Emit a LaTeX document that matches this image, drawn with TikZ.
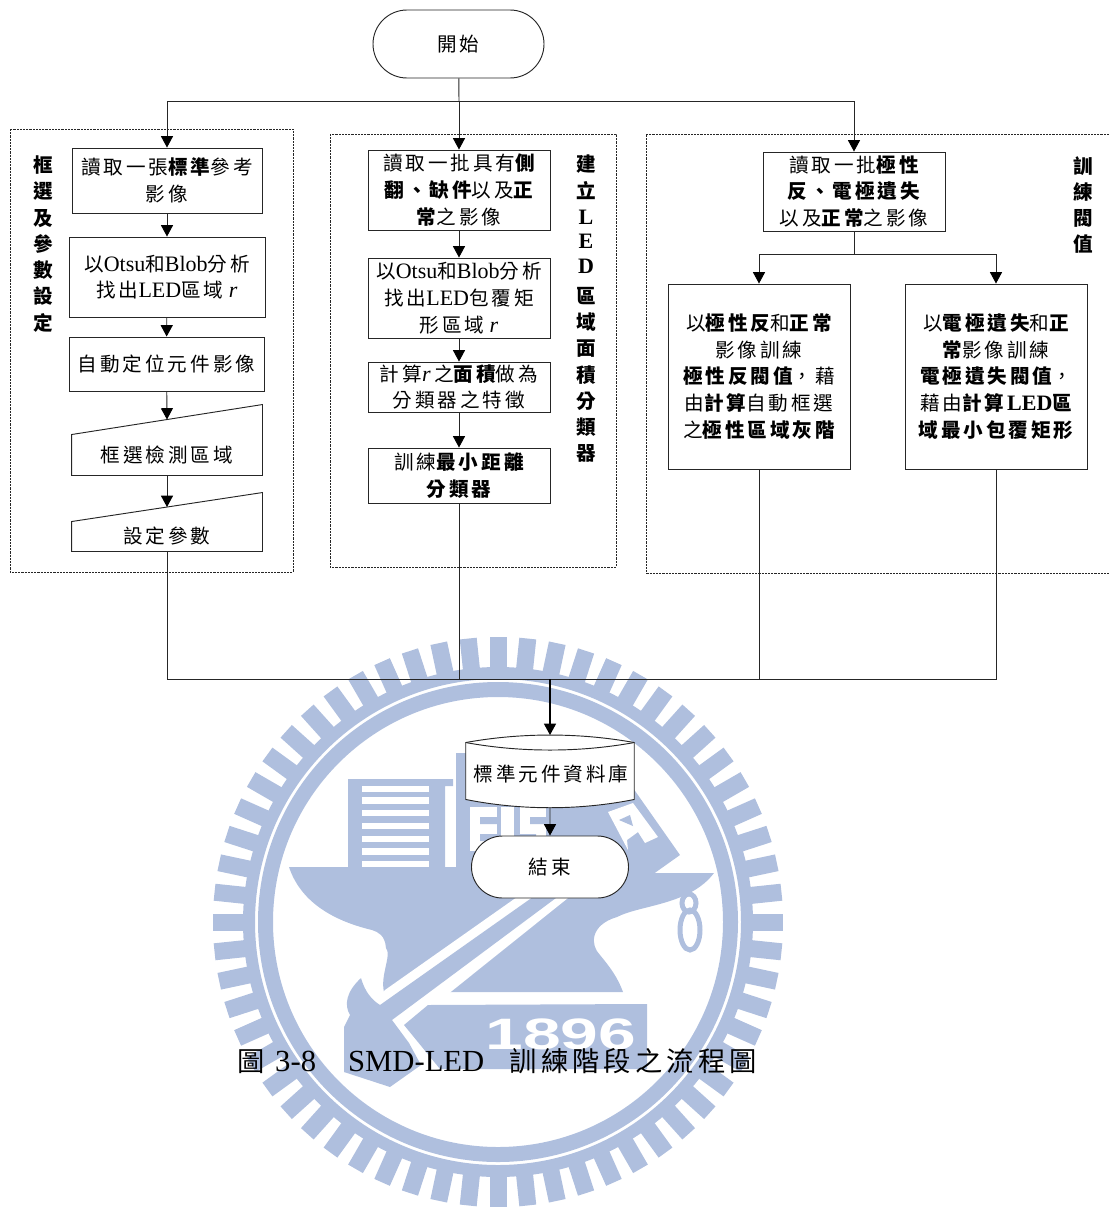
\documentclass[tikz,border=0pt]{standalone}
\usepackage{fontspec}
\setmainfont{Liberation Serif}
\newfontfamily\cjk[Scale=0.89,LetterSpace=15]{Noto Sans CJK TC}
\newfontfamily\sealfont{Liberation Sans}
\newcommand{\zh}[1]{{\cjk #1}}
\newcommand{\zb}[1]{{\cjk\bfseries #1}}
\definecolor{SealBlue}{HTML}{AFBFDE}
\definecolor{FlowLine}{HTML}{262626}
\usetikzlibrary{arrows.meta, positioning, calc, shapes.misc}

\begin{document}
\begin{tikzpicture}[x=0.75pt, y=-0.75pt, >={Triangle[length=8.5pt,width=9pt,color=black]},
  sz/.style 2 args={minimum width=#1*0.75pt, minimum height=#2*0.75pt},
  flowbox/.style={draw=FlowLine, fill=white, line width=0.7pt, align=center, inner sep=0pt,
    font=\fontsize{16.5}{20}\selectfont},
  slantbox/.style={flowbox, draw=none, fill=none},
  termbox/.style={flowbox, rounded rectangle},
  grouptag/.style={align=center, inner sep=0pt, font=\fontsize{16.5}{19.7}\selectfont\bfseries},
  groupframe/.style={draw=FlowLine, line width=0.5pt, dash pattern=on 1.6pt off 0.8pt},
  flow/.style={draw=FlowLine, line width=0.7pt},
  seal/.style={SealBlue}]
  \useasboundingbox (0,0) rectangle (1109,1207);
  % seal behind the chart
  \foreach \a in {0,6,...,354}
    \draw[seal, line width=12.75pt] (498,922) ++(\a:250) -- ++(\a:35);
  \draw[seal, line width=9pt] (498,922) circle[radius=249];
  \draw[seal, line width=11.25pt] (498,922) circle[radius=232.5];
  \fill[seal] (348,867) |- (453,779) -- (453,786) -- (445,786) -- (445,867) -- cycle;
  \fill[seal] (456,870) -- (456,753) -- (600,753) -- (633,788) -- (680,855) -- (635,887) -- cycle;
  \foreach \ya/\yb in {786/792,797/804,810/816,823/829,836/842,848/855,861/867}
    \fill[white] (362,\ya) rectangle (429,\yb);
  \fill[white] (470,807) rectangle (497,851);
  \fill[seal] (480,817) rectangle (497,824) (480,834) rectangle (497,841);
  \fill[white] (501,807) rectangle (514,851);
  \fill[white] (520,807) rectangle (546,851);
  \fill[seal] (530,817) rectangle (546,824) (520,834) rectangle (536,841);
  \fill[white] (608,812) -- (633,803) -- (658,837) -- (645,843) -- (638,832) -- (627,840) -- (628,850) -- cycle;
  \fill[seal] (619,820) -- (630,815) -- (633,826) -- cycle;
  \fill[seal] (289,867) -- (640,867) -- (640,873) -- (714,873)
    .. controls (690,905) and (640,905) .. (617,917)
    .. controls (590,925) and (590,945) .. (600,955)
    .. controls (610,967) and (618,978) .. (623,992) -- (384,992)
    .. controls (380,975) and (392,955) .. (386,948)
    .. controls (385,935) and (378,932) .. (372,930)
    .. controls (330,920) and (300,900) .. (289,867) -- cycle;
  \fill[white] (385,990) -- (527,890) -- (578,890) -- (450,992.5) -- (450,995) -- (380,995) -- cycle;
  \fill[seal] (361,978) .. controls (365,992) and (372,1000) .. (380,1005)
    -- (540,892) -- (564,892) -- (392,1020) -- (409,1043) -- (421,1065) -- (390,1087) -- (344,1072) -- (344,1027)
    -- (350,1015) .. controls (344,1005) and (346,992) .. (361,978) -- cycle;
  \fill[seal] (428,1005) -- (647,1004) -- (647,1069) -- (440,1069) -- (404,1025) -- cycle;
  \draw[seal, line width=3.75pt] (689,903) ellipse[x radius=7, y radius=9] (690,930) ellipse[x radius=10, y radius=20];
  \node[inner sep=0pt, xscale=1.54, text=white] (sealyear) at (561,1034) {\fontsize{33}{33}\sealfont\bfseries 1896};
  % dashed groups
  \draw[groupframe] (10,129) rectangle (293,572);
  \draw[groupframe] (330,134) rectangle (616,567);
  \draw[groupframe] (1109,134) -- (646,134) -- (646,573) -- (1109,573);
  \node[grouptag] (lefttag) at (43,244) {\zb{框}\\\zb{選}\\\zb{及}\\\zb{參}\\\zb{數}\\\zb{設}\\\zb{定}};
  \node[grouptag] (midtag) at (586,309) {\zb{建}\\\zb{立}\\L\\[-1.5pt]E\\[-1.5pt]D\\[3pt]\zb{區}\\\zb{域}\\\zb{面}\\\zb{積}\\\zb{分}\\\zb{類}\\\zb{器}};
  \node[grouptag] (righttag) at (1083,205) {\zb{訓}\\\zb{練}\\\zb{閥}\\\zb{值}};
  % start
  \node[termbox, sz={171}{68}] (startnode) at (458.5,44) {\zh{開始}};
  \coordinate (topbus) at (459,101);
  % left column
  \node[flowbox, sz={190}{65}] (readref) at (167,180.5) {\zh{讀取一張}\zb{標準}\zh{參考}\\\zh{影像}};
  \node[flowbox, sz={196}{80}] (otsuleft) at (167,277) {\zh{以}Otsu\zh{和}Blob\zh{分析}\\\zh{找出}LED\zh{區域} \textit{r}};
  \node[flowbox, sz={195}{54}] (autoloc) at (166.5,364) {\zh{自動定位元件影像}};
  \node[slantbox, sz={190}{40}] (selectarea) at (167,455) {\zh{框選檢測區域}};
  \node[slantbox, sz={190}{29}] (setparam) at (167,536.5) {\zh{設定參數}};
  \draw[flow] (selectarea.south west) -- (selectarea.south east) -- ($(selectarea.north east)+(0,-30)$) -- (selectarea.north west) -- cycle;
  \draw[flow] (setparam.south west) -- (setparam.south east) -- ($(setparam.north east)+(0,-29)$) -- (setparam.north west) -- cycle;
  \coordinate (selecttop) at ($(selectarea.north)+(0,-15)$);
  \coordinate (paramtop) at ($(setparam.north)+(0,-14.5)$);
  % middle column
  \node[flowbox, sz={182}{80}] (readmid) at (459,190) {\zh{讀取一批具有}\zb{側}\\\zb{翻、缺件}\zh{以及}\zb{正}\\\zb{常}\zh{之影像}};
  \node[flowbox, sz={182}{80}] (otsumid) at (459,298) {\zh{以}Otsu\zh{和}Blob\zh{分析}\\\zh{找出}LED\zh{包覆矩}\\\zh{形區域} \textit{r}};
  \node[flowbox, sz={182}{50}] (areafeat) at (459,387) {\zh{計算}\textit{r}\,\zh{之}\zb{面積}\zh{做為}\\\zh{分類器之特徵}};
  \node[flowbox, sz={182}{55}] (mindist) at (459,475.5) {\zh{訓練}\zb{最小距離}\\\zb{分類器}};
  % right column
  \node[flowbox, sz={182}{79}] (readpol) at (854,191.5) {\zh{讀取一批}\zb{極性}\\\zb{反、電極遺失}\\\zh{以及}\zb{正常}\zh{之影像}};
  \coordinate (polbus) at (854,254);
  \node[flowbox, sz={182}{185}] (polthresh) at (759,376.5) {\zh{以}\zb{極性反}\zh{和}\zb{正常}\\\zh{影像訓練}\\\zb{極性反閥值}\zh{，藉}\\\zh{由}\zb{計算}\zh{自動框選}\\\zh{之}\zb{極性區域灰階}};
  \node[flowbox, sz={182}{185}] (electhresh) at (996,376.5) {\zh{以}\zb{電極遺失}\zh{和}\zb{正}\\\zb{常}\zh{影像訓練}\\\zb{電極遺失閥值}\zh{，}\\\zh{藉由}\zb{計算}\textbf{LED}\zb{區}\\\zb{域最小包覆矩形}};
  % database and end
  \coordinate (botbus) at (550,679);
  \node[slantbox, sz={167.6}{56}] (stddb) at (550,771) {};
  \filldraw[flow, fill=white] (stddb.north west) .. controls +(55,-10) and +(-55,-10) .. (stddb.north east)
    -- (stddb.south east) .. controls +(-55,11) and +(55,11) .. (stddb.south west) -- cycle;
  \draw[flow] (stddb.north west) .. controls +(55,10) and +(-55,10) .. (stddb.north east);
  \node[inner sep=0pt, font=\fontsize{16.5}{20}\selectfont] (stdlabel) at (551,774) {\zh{標準元件資料庫}};
  \coordinate (dbtop) at ($(stddb.north)+(0,-7.5)$);
  \coordinate (dbbot) at ($(stddb.south)+(0,8)$);
  \node[termbox, sz={157}{62}] (endnode) at (550,867) {\zh{結束}};
  % connectors
  \draw[flow] (startnode) -- (topbus);
  \draw[flow, ->] (topbus) -| (readref);
  \draw[flow, ->] (topbus) -- (readmid);
  \draw[flow, ->] (topbus) -| (readpol);
  \draw[flow, ->] (readref) -- (otsuleft);
  \draw[flow, ->] (otsuleft) -- (autoloc);
  \draw[flow, ->] (autoloc) -- (selecttop);
  \draw[flow, ->] (selectarea) -- (paramtop);
  \draw[flow, ->] (readmid) -- (otsumid);
  \draw[flow, ->] (otsumid) -- (areafeat);
  \draw[flow, ->] (areafeat) -- (mindist);
  \draw[flow] (readpol) -- (polbus);
  \draw[flow, ->] (polbus) -| (polthresh);
  \draw[flow, ->] (polbus) -| (electhresh);
  \draw[flow] (setparam.south) |- (botbus);
  \draw[flow] (mindist.south) |- (botbus);
  \draw[flow] (polthresh.south) |- (botbus);
  \draw[flow] (electhresh.south) |- (botbus);
  \draw[flow, ->, black, line width=1pt] (botbus) -- (dbtop);
  \draw[flow, ->] (dbbot) -- (endnode);
  % caption
  \node[anchor=west, inner sep=0pt, font=\fontsize{23}{26}\selectfont] (figcaption) at (237,1061)
    {\zh{圖}\hspace{8pt}3-8\hspace{24pt}SMD-LED\hspace{19pt}\zh{訓練階段之流程圖}};
\end{tikzpicture}
\end{document}
